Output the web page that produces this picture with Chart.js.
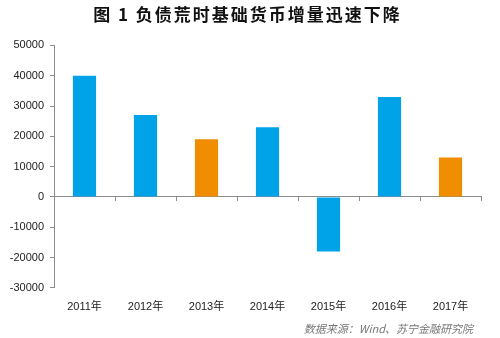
<!DOCTYPE html>
<html>
<head>
<meta charset="utf-8">
<script src="https://cdn.jsdelivr.net/npm/chart.js@4/dist/chart.umd.min.js"></script>
<style>
  html, body { margin: 0; padding: 0; background: #fff; }
  #wrap { width: 500px; height: 338px; }
</style>
</head>
<body>
<div id="wrap"><canvas id="barChart"></canvas></div>
<script>
// dados
var years = ['2011年', '2012年', '2013年', '2014年', '2015年', '2016年', '2017年'];
var baseMoney = [40000, 27000, 19000, 23000, -18000, 33000, 13000];
var barColors = ['#00a2e8', '#00a2e8', '#f18d00', '#00a2e8', '#00a2e8', '#00a2e8', '#f18d00'];
var yMin = -30000, yMax = 50000, yStep = 10000;

var numFont = "'Liberation Sans', 'Noto Sans CJK SC', sans-serif";
var axisGrey = '#8c8c8c';

var ctx = document.getElementById('barChart').getContext('2d');
var myBarChart = new Chart(ctx, {
    type: 'bar',
    data: {
        labels: years,
        datasets: [{
            data: baseMoney,
            backgroundColor: barColors,
            borderWidth: 0,
            categoryPercentage: 1,
            barPercentage: 0.38
        }]
    },
    options: {
        responsive: true,
        maintainAspectRatio: false,
        animation: false,
        layout: { padding: { left: 0, right: 19, top: 0, bottom: 0 } },
        plugins: {
            legend: { display: false },
            tooltip: { enabled: false },
            title: {
                display: true,
                text: '图 1 负债荒时基础货币增量迅速下降',
                color: '#111',
                font: { family: "'Noto Sans CJK SC', sans-serif", size: 17, weight: 'bold' },
                padding: { top: 4, bottom: 21 }
            },
            subtitle: {
                display: true,
                position: 'bottom',
                align: 'end',
                text: '数据来源：Wind、苏宁金融研究院\u2002 ',
                color: '#777',
                font: { family: "'Noto Sans CJK SC', sans-serif", size: 11, style: 'italic' },
                padding: { top: 4, bottom: 3 }
            }
        },
        scales: {
            x: {
                type: 'category',
                position: { y: 0 },
                offset: true,
                grid: { display: true, offset: true, drawOnChartArea: false, drawTicks: true, tickLength: 4, color: axisGrey },
                border: { display: true, color: axisGrey, width: 1 },
                ticks: { display: false }
            },
            xLabels: {
                type: 'category',
                axis: 'x',
                position: 'bottom',
                offset: true,
                grid: { display: false },
                border: { display: false },
                ticks: { color: '#222', padding: 5, maxRotation: 0, font: { family: numFont, size: 11 } },
                afterFit: function (scale) { scale.height = 30; }
            },
            y: {
                min: yMin,
                max: yMax,
                grid: { drawOnChartArea: false, drawTicks: true, tickLength: 4, color: axisGrey },
                border: { display: true, color: axisGrey, width: 1 },
                ticks: {
                    stepSize: yStep,
                    color: '#222',
                    padding: 6,
                    font: { family: numFont, size: 11 },
                    callback: function (value) { return String(value); }
                },
                afterFit: function (scale) { scale.width = 54; }
            }
        }
    }
});

// espacamento entre letras do titulo (e centrado na pagina)
var titleBlock = myBarChart.titleBlock;
var drawTitle = titleBlock.draw.bind(titleBlock);
titleBlock.draw = function () {
    ctx.save();
    ctx.letterSpacing = '2px';
    ctx.translate(7, 0);
    drawTitle();
    ctx.restore();
};
myBarChart.draw();
</script>
</body>
</html>
